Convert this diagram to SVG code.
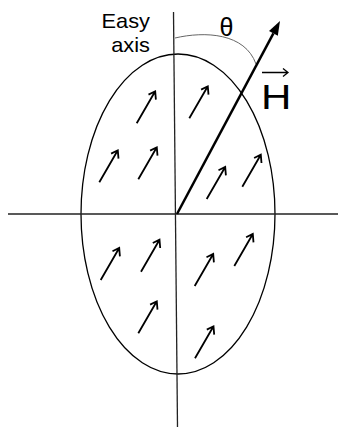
<svg xmlns="http://www.w3.org/2000/svg" xmlns:xlink="http://www.w3.org/1999/xlink" width="343" height="427" viewBox="0 0 343 427">
<style>
.ln{fill:none;stroke:#000;stroke-width:1.3}
.ax{fill:none;stroke:#222;stroke-width:1.3}
.sm{fill:none;stroke:#000;stroke-width:1.8;stroke-linecap:butt}
.arc{fill:none;stroke:#666;stroke-width:1}
.t{font-family:"Liberation Sans",Arial,sans-serif;fill:#000}
</style>
<defs>
<path id="m" class="sm" d="M0,0 L18.5,-32 M11.8,-28.7 L18.5,-32 L19.2,-23.7"/>
</defs>
<rect width="343" height="427" fill="#fff"/>
<g id="ellipse"><ellipse class="ln" cx="178" cy="214" rx="97" ry="160"/></g>
<g id="connectors">
<line class="ax" x1="8" y1="214" x2="338" y2="214"/>
<line class="ax" x1="173.5" y1="12" x2="177.5" y2="427"/>
<path class="arc" d="M175,38 C205,31 245,33 256,64"/>
<line x1="177" y1="214" x2="273.4" y2="33.4" stroke="#000" stroke-width="2.5"/>
<polygon points="280,21 277.8,35.7 269,31" fill="#000"/>
</g>
<g id="moments">
<use xlink:href="#m" x="136.7" y="123.3"/>
<use xlink:href="#m" x="99.3" y="182.3"/>
<use xlink:href="#m" x="138.3" y="179.3"/>
<use xlink:href="#m" x="189.3" y="118.3"/>
<use xlink:href="#m" x="206.7" y="199"/>
<use xlink:href="#m" x="242.3" y="186.7"/>
<use xlink:href="#m" x="100.7" y="280"/>
<use xlink:href="#m" x="141" y="271.7"/>
<use xlink:href="#m" x="138.3" y="333.3"/>
<use xlink:href="#m" x="194.7" y="286"/>
<use xlink:href="#m" x="234.3" y="266"/>
<use xlink:href="#m" x="195" y="358.3"/>
</g>
<g id="label-easy-axis">
<text class="t" font-size="20" text-anchor="end" transform="translate(150,28) scale(1.09,1)">Easy</text>
<text class="t" font-size="20" text-anchor="end" transform="translate(150,52) scale(1.09,1)">axis</text>
</g>
<g id="label-theta"><text class="t" x="226.5" y="35.5" font-size="25" text-anchor="middle">θ</text></g>
<g id="label-H">
<text class="t" font-size="36" x="-2.8" transform="translate(264.3,109.3) scale(1.17,1)">H</text>
<path class="ln" d="M262,72.5 L288,72.5 M283,68.5 L288,72.5 L283,76.5"/>
</g>
</svg>
